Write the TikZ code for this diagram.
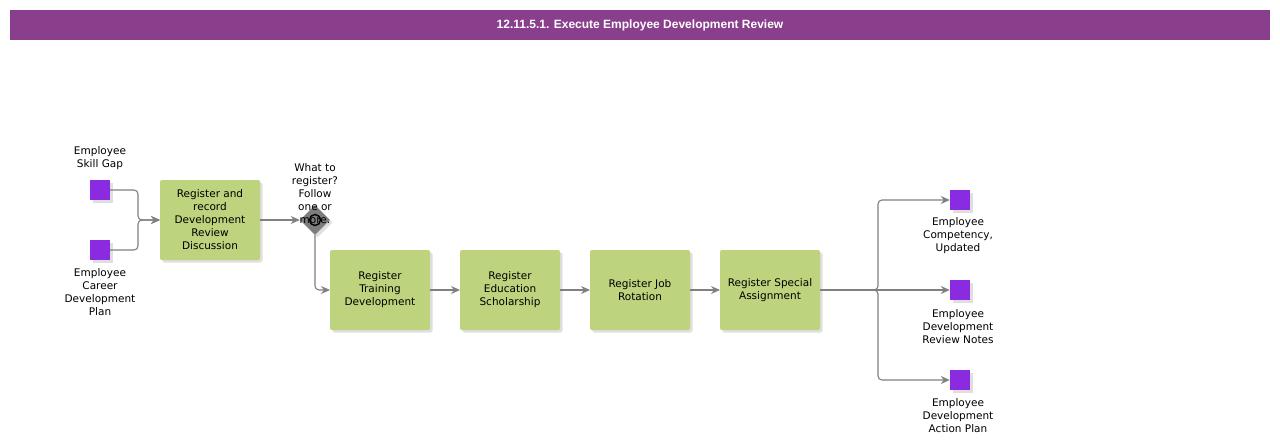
\documentclass[tikz,border=0pt]{standalone}
\usepackage{fontspec}
\setmainfont{DejaVu Sans}
\newfontfamily\titlefont{Liberation Sans}
\usetikzlibrary{positioning, calc, shapes.geometric, arrows.meta, shadows}
\definecolor{bandPurple}{RGB}{137,63,140}
\definecolor{taskGreen}{RGB}{189,211,125}
\definecolor{dataViolet}{RGB}{138,43,226}
\definecolor{flowGray}{RGB}{128,128,128}
\definecolor{gateGray}{RGB}{125,125,125}

\begin{document}
\begin{tikzpicture}[
      x=1pt, y=-1pt,
      node distance=30pt,
      softshadow/.style={drop shadow={opacity=0.25, shadow xshift=2.5pt, shadow yshift=-2.5pt}},
      task/.style={rectangle, fill=taskGreen, rounded corners=2pt, softshadow,
        minimum width=100pt, minimum height=80pt, inner sep=2pt, outer sep=0pt, align=center,
        font=\fontsize{10.5}{13}\selectfont},
      data/.style={rectangle, fill=dataViolet, minimum size=20pt, inner sep=0pt, softshadow},
      gate/.style={diamond, fill=gateGray, minimum size=30pt, inner sep=0pt, softshadow},
      lbl/.style={align=center, inner sep=0pt, font=\fontsize{10.5}{13}\selectfont},
      arr/.style={-{Stealth[length=9pt, width=8pt]}, flowGray, line width=1.1pt, rounded corners=4pt}
    ]
    \fill[white] (0,0) rectangle (1280,447);
    \useasboundingbox (0,0) rectangle (1280,447);

    % title band
    \node[fill=bandPurple, minimum width=1260pt, minimum height=30pt, inner sep=0pt,
      text=white, font=\titlefont\bfseries\fontsize{12}{14}\selectfont]
      (title) at (640,25) {12.11.5.1. Execute Employee Development Review};

    % inputs
    \node[data] (skill) at (100,190) {};
    \node[data] (career) at (100,250) {};
    \node[lbl] (skilltxt) at (100,158.5) {Employee\\Skill Gap};
    \node[lbl] (careertxt) at (100,292) {Employee\\Career\\Development\\Plan};

    % tasks
    \node[task] (review) at (210,220) {Register and\\record\\Development\\Review\\Discussion};
    \node[gate] (choice) at (315,220) {};
    \draw[line width=1.4pt] (choice.center) circle (5.5pt);
    \node[lbl] (choicetxt) at (315,194) {What to\\register?\\Follow\\one or\\more.};

    \node[task] (training) at (380,290) {Register\\Training\\Development};
    \node[task, right=of training] (scholar) {Register\\Education\\Scholarship};
    \node[task, right=of scholar] (rotation) {Register Job\\Rotation};
    \node[task, right=of rotation] (special) {Register Special\\Assignment};

    % outputs
    \node[data] (compet) at (960,200) {};
    \node[data] (notes) at (960,290) {};
    \node[data] (action) at (960,380) {};
    \node[lbl] (compettxt) at (958,236) {Employee\\Competency,\\Updated};
    \node[lbl] (notestxt) at (958,327) {Employee\\Development\\Review Notes};
    \node[lbl] (actiontxt) at (958,416) {Employee\\Development\\Action Plan};

    \coordinate (merge) at (138,220);
    \coordinate (fork) at (878,290);

    \draw[arr] (skill.east) -| (merge) -- (review.west);
    \draw[arr] (career.east) -| (merge) -- (review.west);
    \draw[arr] (review.east) -- (choice.west);
    \draw[arr] (choice.south) |- (training.west);
    \draw[arr] (training) -- (scholar);
    \draw[arr] (scholar) -- (rotation);
    \draw[arr] (rotation) -- (special);
    \draw[arr] (special.east) -- (fork) |- (compet.west);
    \draw[arr] (special.east) -- (notes.west);
    \draw[arr] (special.east) -- (fork) |- (action.west);
  \end{tikzpicture}
\end{document}
